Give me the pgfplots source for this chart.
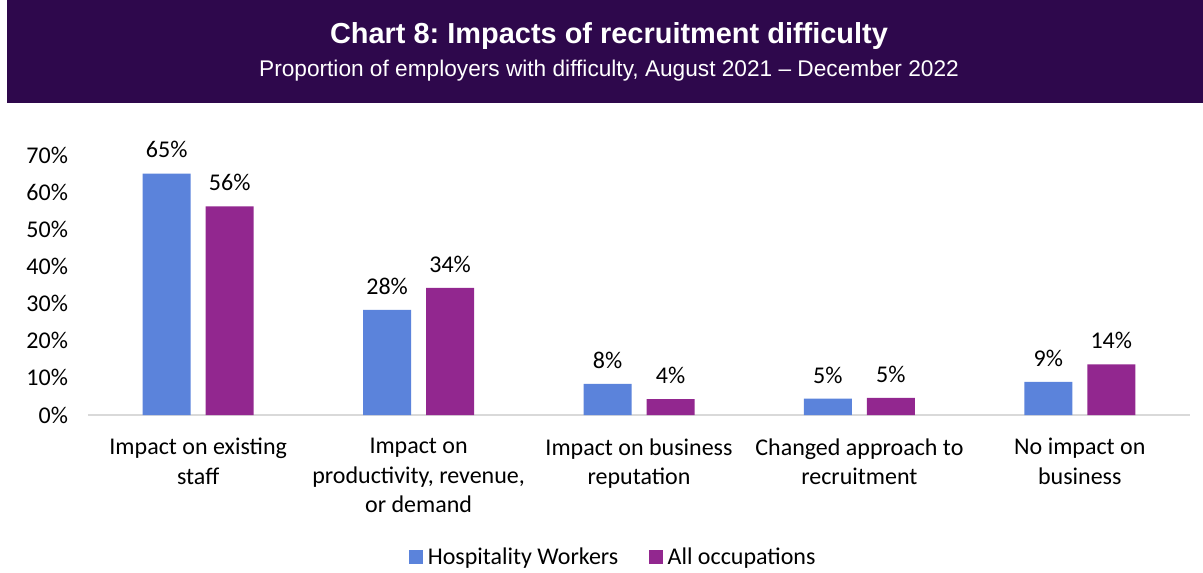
\documentclass[border=0pt]{standalone}
\usepackage{fontspec}
\setmainfont{Carlito}
\newfontfamily\arial{Liberation Sans}
\usepackage{pgfplots}
\pgfplotsset{compat=1.18}
\definecolor{banner}{RGB}{46,8,76}
\definecolor{hosp}{RGB}{91,131,219}
\definecolor{allocc}{RGB}{146,39,143}
\definecolor{axisgray}{RGB}{217,217,217}
\frenchspacing
\begin{document}
\begin{tikzpicture}
\useasboundingbox (0,0) rectangle (902.25pt,-429.75pt);
% title banner
\fill[banner] (5.25pt,0) rectangle (902.25pt,-77.25pt);
\node[text=white,font=\arial\bfseries\fontsize{21.7}{26}\selectfont] at (456.75pt,-27pt) {Chart 8: Impacts of recruitment difficulty};
\node[text=white,font=\arial\fontsize{17}{20}\selectfont] at (456.75pt,-53pt) {Proportion of employers with difficulty, August 2021 – December 2022};
\begin{axis}[
    at={(66pt,-311.25pt)}, anchor=south west,
    scale only axis,
    width=826.5pt, height=195pt,
    ybar=11.25pt, bar width=36pt,
    xmin=-0.5, xmax=4.5,
    ymin=0, ymax=70,
    axis x line*=bottom,
    axis y line*=left,
    x axis line style={draw=axisgray, line width=1pt},
    y axis line style={draw=none},
    major tick length=0pt,
    xtick={0,1,2,3,4},
    xticklabels={{Impact on existing\\staff},{Impact on\\productivity, revenue,\\or demand},{Impact on business\\reputation},{Changed approach to\\recruitment},{No impact on\\business}},
    xticklabel style={align=center, font=\fontsize{18}{22}\selectfont, yshift=-14pt},
    ytick={0,10,...,70},
    yticklabel={\pgfmathprintnumber{\tick}\%},
    yticklabel style={font=\fontsize{18}{21}\selectfont, xshift=-11.5pt, /pgf/number format/assume math mode=true},
    point meta=explicit symbolic,
    nodes near coords={\pgfplotspointmeta\%},
    every node near coord/.append style={font=\fontsize{18}{21}\selectfont, text=black, yshift=8pt},
    legend columns=2,
    legend style={at={(0.477,-0.546)}, anchor=center, draw=none, font=\fontsize{18}{21}\selectfont,
        /tikz/every even column/.append style={column sep=21pt}},
    legend image code/.code={\fill[#1] (0pt,-5.25pt) rectangle (10.5pt,5.25pt); \path (12pt,0pt);},
]
\addplot[fill=hosp, draw=none] coordinates {
    (0,65) [65]
    (1,28.3) [28]
    (2,8.4) [8]
    (3,4.4) [5]
    (4,8.9) [9]
};
\addplot[fill=allocc, draw=none] coordinates {
    (0,56.2) [56]
    (1,34.2) [34]
    (2,4.3) [4]
    (3,4.6) [5]
    (4,13.6) [14]
};
\legend{Hospitality Workers, All occupations}
\end{axis}
\end{tikzpicture}
\end{document}
